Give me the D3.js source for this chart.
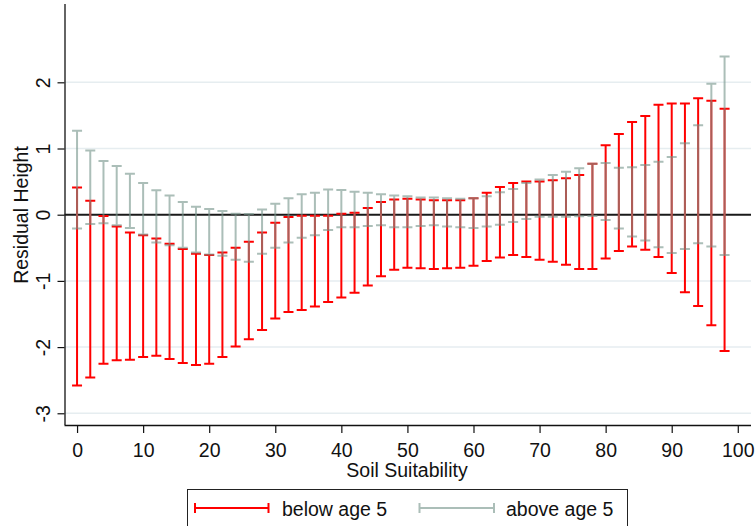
<!DOCTYPE html>
<html>
<head>
<meta charset="utf-8">
<script src="https://cdn.jsdelivr.net/npm/d3@7"></script>
<style>
  html, body { margin: 0; padding: 0; background: #fff; }
  svg { display: block; }
  text { font-family: "Liberation Sans", Arial, sans-serif; fill: #111; }
</style>
</head>
<body>
<svg id="chart" width="756" height="526"></svg>
<script>
// ---- data ----
const soil = [0,2,4,6,8,10,12,14,16,18,20,22,24,26,28,30,32,34,36,38,40,42,44,46,48,
              50,52,54,56,58,60,62,64,66,68,70,72,74,76,78,80,82,84,86,88,90,92,94,96,98];
const belowLow  = [-2.58,-2.46,-2.25,-2.20,-2.19,-2.15,-2.13,-2.18,-2.24,-2.27,-2.25,-2.15,-1.99,-1.88,-1.74,-1.57,-1.47,-1.44,-1.385,-1.32,
                   -1.25,-1.18,-1.07,-0.93,-0.83,-0.80,-0.81,-0.82,-0.81,-0.80,-0.77,-0.70,-0.645,-0.61,-0.64,-0.68,-0.71,-0.755,-0.82,-0.82,
                   -0.66,-0.55,-0.48,-0.53,-0.64,-0.88,-1.17,-1.38,-1.67,-2.06];
const belowHigh = [0.41,0.21,-0.02,-0.18,-0.27,-0.31,-0.36,-0.44,-0.52,-0.59,-0.61,-0.57,-0.50,-0.41,-0.27,-0.12,-0.035,-0.015,-0.015,-0.015,
                   0.015,0.03,0.10,0.19,0.23,0.24,0.23,0.22,0.22,0.22,0.25,0.33,0.42,0.48,0.50,0.50,0.52,0.55,0.60,0.77,
                   1.05,1.22,1.40,1.49,1.66,1.68,1.68,1.76,1.72,1.60];
const aboveLow  = [-0.21,-0.14,-0.13,-0.16,-0.20,-0.30,-0.42,-0.46,-0.50,-0.57,-0.60,-0.62,-0.68,-0.71,-0.59,-0.50,-0.42,-0.35,-0.31,-0.23,
                   -0.19,-0.19,-0.17,-0.16,-0.19,-0.19,-0.17,-0.16,-0.18,-0.19,-0.20,-0.18,-0.15,-0.11,-0.065,-0.03,-0.03,-0.03,-0.025,-0.02,
                   -0.08,-0.21,-0.33,-0.39,-0.49,-0.58,-0.52,-0.43,-0.48,-0.61];
const aboveHigh = [1.27,0.97,0.81,0.735,0.62,0.48,0.37,0.29,0.19,0.12,0.085,0.055,0.015,0.01,0.08,0.166,0.25,0.31,0.33,0.38,
                   0.375,0.345,0.33,0.31,0.29,0.28,0.26,0.26,0.25,0.24,0.25,0.28,0.34,0.39,0.48,0.53,0.60,0.65,0.70,0.77,
                   0.78,0.71,0.715,0.75,0.80,0.87,1.08,1.35,1.98,2.39];
const xTicks = [0,10,20,30,40,50,60,70,80,90,100];
const yTicks = [-3,-2,-1,0,1,2];
const seriesNames = ["below age 5", "above age 5"];

// ---- styles ----
const RED = "#ff0000";
const GRAY = "rgb(120,150,140)";
const GRAY_OP = 0.62;

const svg = d3.select("#chart");
const pLeft = 64.5, pRight = 751, pTop = 4, pBottom = 425;

const x = d3.scaleLinear().domain([-1.9, 102]).range([pLeft, pRight]);
const y = d3.scaleLinear().domain([-3.177, 3.183]).range([pBottom, pTop]);

// gridlines
svg.append("g").selectAll("line").data(yTicks.filter(d => d !== 0)).join("line")
  .attr("x1", pLeft).attr("x2", pRight)
  .attr("y1", d => y(d)).attr("y2", d => y(d))
  .attr("stroke", "#e6edf0").attr("stroke-width", 1.5);

// axes
const xAxis = d3.axisBottom(x).tickValues(xTicks).tickSize(8).tickPadding(6).tickFormat(d3.format("d"));
const yAxis = d3.axisLeft(y).tickValues(yTicks).tickSize(7).tickFormat(d => d < 0 ? "-" + Math.abs(d) : String(d));

const gx = svg.append("g").attr("transform", `translate(0,${pBottom})`).call(xAxis);
gx.select(".domain").attr("d", `M${pLeft},0.5H${pRight}`).attr("stroke", "#111").attr("stroke-width", 1.3);
gx.selectAll(".tick line").attr("stroke", "#111").attr("stroke-width", 1.2);
gx.selectAll(".tick text").attr("font-size", 19.5).attr("font-family", "Liberation Sans, Arial, sans-serif")
  .attr("fill", "#111").attr("dy", null).attr("y", 31.5);

const gy = svg.append("g").attr("transform", `translate(${pLeft},0)`).call(yAxis);
gy.select(".domain").attr("d", `M0.5,${pTop}V${pBottom}`).attr("stroke", "#111").attr("stroke-width", 1.3);
gy.selectAll(".tick line").attr("stroke", "#111").attr("stroke-width", 1.2);
gy.selectAll(".tick text").attr("font-size", 19.5).attr("font-family", "Liberation Sans, Arial, sans-serif")
  .attr("fill", "#111").attr("x", null).attr("dy", null).attr("text-anchor", "middle")
  .attr("transform", "translate(-14.5,0) rotate(-90)");

// zero line
svg.append("line").attr("x1", pLeft).attr("x2", pRight)
  .attr("y1", y(0)).attr("y2", y(0))
  .attr("stroke", "#1a1a1a").attr("stroke-width", 2);

// range bars
const capW = 5;
function drawBars(lo, hi, color, op) {
  const g = svg.append("g").attr("stroke", color).attr("stroke-opacity", op).attr("fill", "none");
  const data = soil.map((s, i) => ({ s, lo: lo[i], hi: hi[i] }));
  const path = d => {
    const cx = x(d.s), y1 = y(d.hi), y2 = y(d.lo);
    return `M${cx},${y1}V${y2}M${cx - capW},${y1}H${cx + capW}M${cx - capW},${y2}H${cx + capW}`;
  };
  g.selectAll("path").data(data).join("path")
    .attr("d", path).attr("stroke-width", 2);
}
drawBars(belowLow, belowHigh, RED, 1);
drawBars(aboveLow, aboveHigh, GRAY, GRAY_OP);

// titles
svg.append("text").attr("x", 407).attr("y", 477).attr("text-anchor", "middle")
  .attr("font-size", 19.5).text("Soil Suitability");
svg.append("text").attr("transform", "translate(28,215) rotate(-90)").attr("text-anchor", "middle")
  .attr("font-size", 19.5).text("Residual Height");

// legend
const lg = svg.append("g");
lg.append("rect").attr("x", 187.5).attr("y", 489.5).attr("width", 440).attr("height", 60)
  .attr("fill", "#fff").attr("stroke", "#222").attr("stroke-width", 1);
const legendItems = [
  { name: seriesNames[0], color: RED, op: 1, x0: 195, x1: 268.5, tx: 282 },
  { name: seriesNames[1], color: GRAY, op: GRAY_OP, x0: 419.5, x1: 494, tx: 506 }
];
legendItems.forEach(it => {
  const ly = 508;
  lg.append("path")
    .attr("d", `M${it.x0},${ly}H${it.x1}M${it.x0},${ly - 5}V${ly + 5}M${it.x1},${ly - 5}V${ly + 5}`)
    .attr("stroke", it.color).attr("stroke-opacity", it.op).attr("stroke-width", 2).attr("fill", "none");
  lg.append("text").attr("x", it.tx).attr("y", 515.5).attr("font-size", 19.5).text(it.name);
});
</script>
</body>
</html>
